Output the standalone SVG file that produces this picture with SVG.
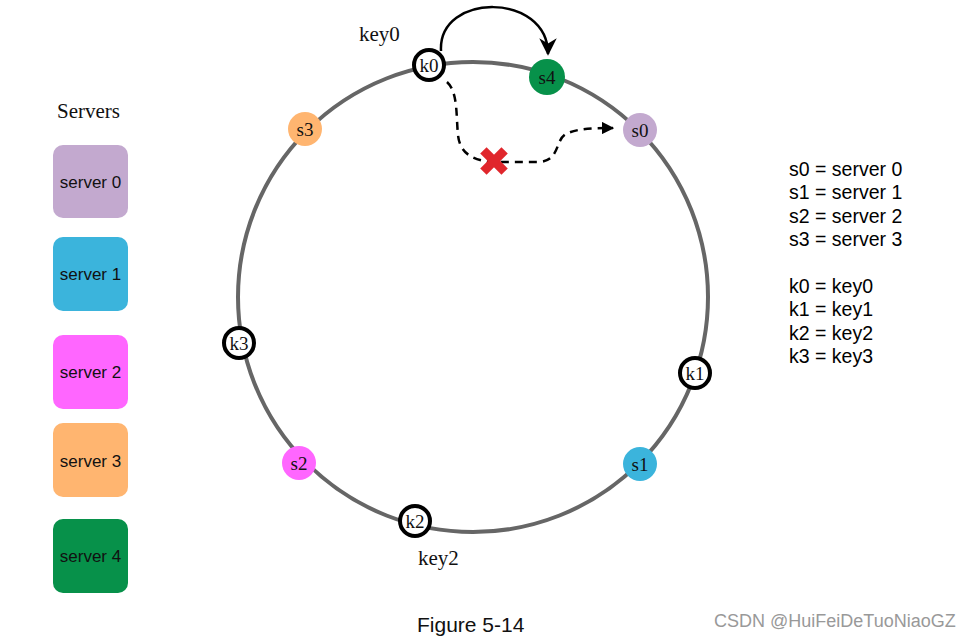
<svg xmlns="http://www.w3.org/2000/svg" width="975" height="637" viewBox="0 0 975 637">
<defs>
<style>
.box{stroke:none}
.bt{font-family:"Liberation Sans",Arial,sans-serif;font-size:17px;fill:#111;text-anchor:middle}
.ser{font-family:"Liberation Serif","Times New Roman",serif;font-size:21px;fill:#111}
.nl{font-family:"Liberation Serif","Times New Roman",serif;font-size:19px;fill:#111;text-anchor:middle}
.key{fill:#fff;stroke:#000;stroke-width:4}
.leg{font-family:"Liberation Sans",Arial,sans-serif;font-size:19.5px;fill:#000}
</style>
<marker id="ah" viewBox="0 0 10 10" refX="9" refY="5" markerWidth="7" markerHeight="7" orient="auto" markerUnits="strokeWidth">
<path d="M0,0 L10,5 L0,10 L3,5 Z" fill="#000"/>
</marker>
<marker id="ah2" viewBox="0 0 10 10" refX="9" refY="5" markerWidth="5" markerHeight="5" orient="auto" markerUnits="strokeWidth">
<path d="M0,0 L10,5 L0,10 Z" fill="#000"/>
</marker>
</defs>
<rect width="975" height="637" fill="#fff"/>

<text class="ser" x="57" y="118">Servers</text>
<g id="legend-server0"><rect class="box" x="53" y="145" width="75" height="73" rx="10" fill="#c3a9cf"/><text class="bt" x="90.5" y="188">server 0</text></g>
<g id="legend-server1"><rect class="box" x="53" y="237" width="75" height="74" rx="10" fill="#3bb4dc"/><text class="bt" x="90.5" y="280">server 1</text></g>
<g id="legend-server2"><rect class="box" x="53" y="335" width="75" height="74" rx="10" fill="#ff66ff"/><text class="bt" x="90.5" y="378">server 2</text></g>
<g id="legend-server3"><rect class="box" x="53" y="423" width="75" height="74" rx="10" fill="#ffb570"/><text class="bt" x="90.5" y="467">server 3</text></g>
<g id="legend-server4"><rect class="box" x="53" y="519" width="75" height="74" rx="10" fill="#07914a"/><text class="bt" x="90.5" y="562">server 4</text></g>

<g id="ring"><circle cx="473" cy="297" r="235" fill="none" stroke="#666" stroke-width="4"/></g>

<g id="connectors">
<path d="M441,51 C438,-8 548,-8 548,54" fill="none" stroke="#000" stroke-width="2.5" marker-end="url(#ah)"/>
<path d="M447,82 C458,92 456,115 458,135 C460,155 475,160 490,162 L540,162 C560,160 555,140 566,134 C578,128 595,128 613,128" fill="none" stroke="#000" stroke-width="2.5" stroke-dasharray="8,6" marker-end="url(#ah2)"/>
</g>

<g id="x-mark" transform="translate(494,161) rotate(45)">
<rect x="-15" y="-4.5" width="30" height="9" fill="#e0262c"/>
<rect x="-4.5" y="-15" width="9" height="30" fill="#e0262c"/>
</g>

<g id="s4"><circle cx="547" cy="77" r="18" fill="#07914a"/><text class="nl" x="547" y="84">s4</text></g>
<g id="s0"><circle cx="640" cy="130" r="17" fill="#c3a9cf"/><text class="nl" x="640" y="137">s0</text></g>
<g id="s3"><circle cx="305" cy="129" r="17" fill="#ffb570"/><text class="nl" x="305" y="136">s3</text></g>
<g id="s1"><circle cx="640" cy="464" r="17" fill="#3bb4dc"/><text class="nl" x="640" y="471">s1</text></g>
<g id="s2"><circle cx="299" cy="463" r="17" fill="#ff66ff"/><text class="nl" x="299" y="470">s2</text></g>

<g id="k0"><circle class="key" cx="429" cy="65" r="15"/><text class="nl" x="429" y="72">k0</text></g>
<g id="k1"><circle class="key" cx="695" cy="373" r="15"/><text class="nl" x="695" y="380">k1</text></g>
<g id="k2"><circle class="key" cx="415" cy="521" r="15"/><text class="nl" x="415" y="528">k2</text></g>
<g id="k3"><circle class="key" cx="239" cy="343" r="15"/><text class="nl" x="239" y="350">k3</text></g>

<text class="ser" x="359" y="41">key0</text>
<text class="ser" x="418" y="565">key2</text>

<g id="legend-text">
<text class="leg" x="789" y="176">s0 = server 0</text>
<text class="leg" x="789" y="199">s1 = server 1</text>
<text class="leg" x="789" y="223">s2 = server 2</text>
<text class="leg" x="789" y="246">s3 = server 3</text>
<text class="leg" x="789" y="293">k0 = key0</text>
<text class="leg" x="789" y="316">k1 = key1</text>
<text class="leg" x="789" y="340">k2 = key2</text>
<text class="leg" x="789" y="363">k3 = key3</text>
</g>

<text x="417" y="632" font-family="Liberation Sans,Arial,sans-serif" font-size="21" fill="#111">Figure 5-14</text>
<text x="714" y="627" font-family="Liberation Sans,Arial,sans-serif" font-size="18" fill="#999">CSDN @HuiFeiDeTuoNiaoGZ</text>
</svg>
